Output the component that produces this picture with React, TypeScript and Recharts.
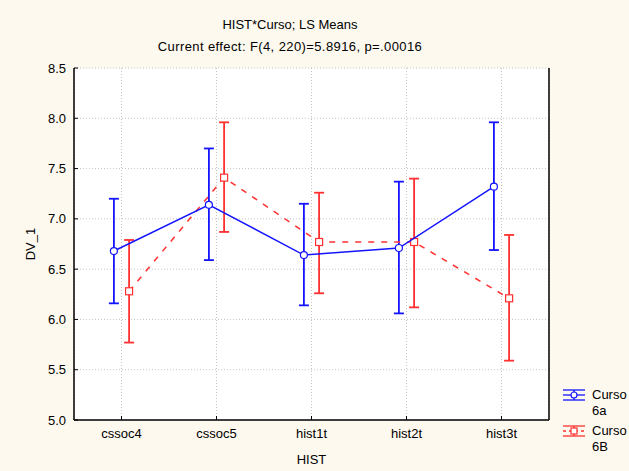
import React from "react"
import {
  ComposedChart,
  Scatter,
  XAxis,
  YAxis,
  CartesianGrid,
  ErrorBar,
  Label,
} from "recharts"

// data
const categories = ["cssoc4", "cssoc5", "hist1t", "hist2t", "hist3t"]
const meanA = [6.68, 7.14, 6.64, 6.71, 7.32]
const lowA = [6.16, 6.59, 6.14, 6.06, 6.69]
const highA = [7.2, 7.7, 7.15, 7.37, 7.96]
const meanB = [6.28, 7.41, 6.77, 6.77, 6.21]
const lowB = [5.77, 6.87, 6.26, 6.12, 5.59]
const highB = [6.79, 7.96, 7.26, 7.4, 6.84]
const yTicks = [5.0, 5.5, 6.0, 6.5, 7.0, 7.5, 8.0, 8.5]
const xTicks = [1, 2, 3, 4, 5]

const BLUE = "#1414ff"
const RED = "#ff3030"
const BG = "#fdf9ef"
const FONT = "'Liberation Sans', Arial, sans-serif"

// small side shift so the two groups don't overlap
const SHIFT = 0.08

const build = (mean: number[], low: number[], high: number[], shift: number) =>
  mean.map((m, i) => ({
    x: i + 1 + shift,
    y: m,
    err: [m - low[i], high[i] - m],
  }))

const rowsA = build(meanA, lowA, highA, -SHIFT)
const rowsB = build(meanB, lowB, highB, SHIFT)

const Circle = (p: any) => (
  <circle cx={p.cx} cy={p.cy} r={3.5} fill="#fff" stroke={BLUE} strokeWidth={1.2} />
)
const Square = (p: any) => (
  <rect x={p.cx - 3.5} y={p.cy - 3.5} width={7} height={7} fill="#fff" stroke={RED} strokeWidth={1.2} />
)

const LegendIcon = ({ color, dashed, square }: { color: string; dashed?: boolean; square?: boolean }) => (
  <svg width={24} height={14} style={{ display: "block" }}>
    <line x1={1} y1={2} x2={23} y2={2} stroke={color} strokeWidth={1.3} />
    <line x1={1} y1={12} x2={23} y2={12} stroke={color} strokeWidth={1.3} />
    <line x1={12} y1={2} x2={12} y2={12} stroke={color} strokeWidth={1.3} />
    <line x1={1} y1={7} x2={23} y2={7} stroke={color} strokeWidth={1.3} strokeDasharray={dashed ? "3 3" : undefined} />
    {square ? (
      <rect x={9} y={4} width={6} height={6} fill="#fff" stroke={color} strokeWidth={1.2} />
    ) : (
      <circle cx={12} cy={7} r={3} fill="#fff" stroke={color} strokeWidth={1.2} />
    )}
  </svg>
)

const LegendBox = () => (
  <div style={{ position: "absolute", left: 562, top: 387, fontFamily: FONT, fontSize: 13, color: "#000", lineHeight: "16px" }}>
    <div style={{ display: "flex", alignItems: "flex-start", gap: 6 }}>
      <div style={{ marginTop: 1 }}>
        <LegendIcon color={BLUE} />
      </div>
      <div>Curso<br />6a</div>
    </div>
    <div style={{ display: "flex", alignItems: "flex-start", gap: 6, marginTop: 4 }}>
      <div style={{ marginTop: 1 }}>
        <LegendIcon color={RED} dashed square />
      </div>
      <div>Curso<br />6B</div>
    </div>
  </div>
)

export default function App() {
  const tickStyle = { fill: "#000", fontSize: 13, fontFamily: FONT }
  return (
    <div style={{ position: "fixed", left: 0, top: 0, width: 629, height: 471, background: BG, fontFamily: FONT }}>
      <div style={{ position: "absolute", left: 0, width: 580, top: 17, textAlign: "center", fontSize: 13 }}>
        HIST*Curso; LS Means
      </div>
      <div style={{ position: "absolute", left: 0, width: 580, top: 39, textAlign: "center", fontSize: 13, letterSpacing: 0.4 }}>
        Current effect: F(4, 220)=5.8916, p=.00016
      </div>
      <ComposedChart
        width={629}
        height={471}
        margin={{ top: 68, right: 0, left: 0, bottom: 0 }}
        style={{ position: "absolute", left: 0, top: 0 }}
      >
        <CartesianGrid fill="#fff" stroke="#c4c4c4" strokeDasharray="1 2" />
        <XAxis
          type="number"
          dataKey="x"
          domain={[0.5, 5.5]}
          ticks={xTicks}
          tickFormatter={(v: number) => categories[v - 1] ?? ""}
          height={51}
          tickSize={-4}
          tickMargin={13}
          tick={tickStyle}
          axisLine={{ stroke: "#000", strokeWidth: 1.5 }}
          tickLine={{ stroke: "#000" }}
        >
          <Label value="HIST" position="insideBottom" offset={7} style={{ fill: "#000", fontSize: 13, fontFamily: FONT }} />
        </XAxis>
        <XAxis
          xAxisId="top"
          orientation="top"
          type="number"
          domain={[0.5, 5.5]}
          ticks={xTicks}
          height={0}
          tickSize={-4}
          tick={() => <g />}
          axisLine={{ stroke: "#000", strokeWidth: 1.5 }}
          tickLine={{ stroke: "#000" }}
        />
        <YAxis
          type="number"
          dataKey="y"
          domain={[5, 8.5]}
          ticks={yTicks}
          tickFormatter={(v: number) => v.toFixed(1)}
          width={74}
          tickSize={-4}
          tickMargin={12}
          tick={tickStyle}
          axisLine={{ stroke: "#000", strokeWidth: 1.5 }}
          tickLine={{ stroke: "#000" }}
        >
          <Label
            value="DV_1"
            angle={-90}
            position="insideLeft"
            offset={30}
            style={{ fill: "#000", fontSize: 13, fontFamily: FONT, textAnchor: "middle" }}
          />
        </YAxis>
        <YAxis
          yAxisId="right"
          orientation="right"
          type="number"
          domain={[5, 8.5]}
          ticks={yTicks}
          width={80}
          tickSize={-4}
          tick={() => <g />}
          axisLine={{ stroke: "#000", strokeWidth: 1.5 }}
          tickLine={{ stroke: "#000" }}
        />
        <Scatter
          name="Curso 6B"
          data={rowsB}
          line={{ stroke: RED, strokeWidth: 1.5, strokeDasharray: "6 7" }}
          shape={Square}
          isAnimationActive={false}
        >
          <ErrorBar dataKey="err" direction="y" width={5} stroke={RED} strokeWidth={1.8} />
        </Scatter>
        <Scatter
          name="Curso 6a"
          data={rowsA}
          line={{ stroke: BLUE, strokeWidth: 1.5 }}
          shape={Circle}
          isAnimationActive={false}
        >
          <ErrorBar dataKey="err" direction="y" width={5} stroke={BLUE} strokeWidth={1.8} />
        </Scatter>
      </ComposedChart>
      <LegendBox />
    </div>
  )
}
